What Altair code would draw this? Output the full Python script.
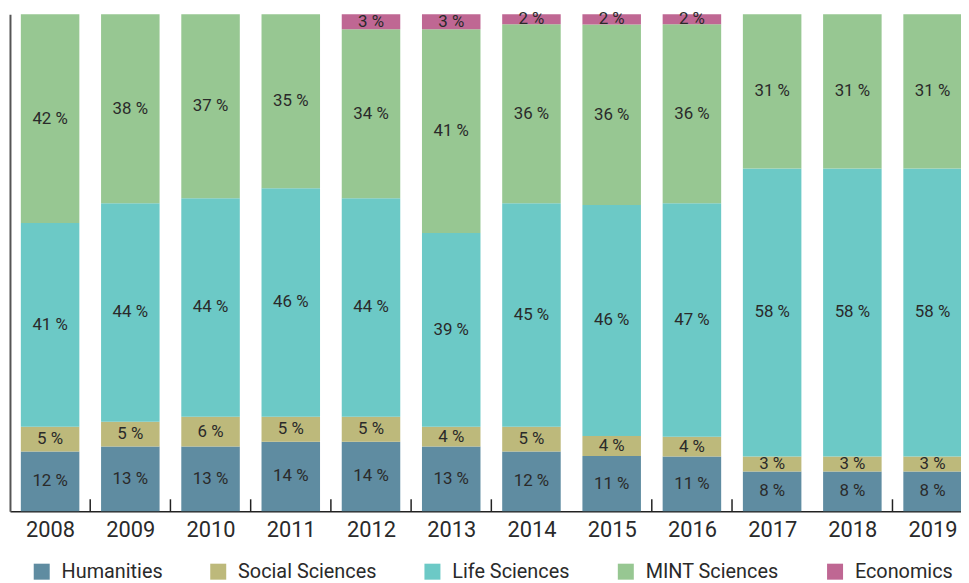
import altair as alt
import pandas as pd

years = ["2008", "2009", "2010", "2011", "2012", "2013", "2014", "2015", "2016", "2017", "2018", "2019"]
categories = ["Humanities", "Social Sciences", "Life Sciences", "MINT Sciences", "Economics"]
colors = ["#5f8ca1", "#bdb97b", "#6cc9c6", "#97c792", "#bf6793"]

humanities = [12, 13, 13, 14, 14, 13, 12, 11, 11, 8, 8, 8]
social = [5, 5, 6, 5, 5, 4, 5, 4, 4, 3, 3, 3]
life = [41, 44, 44, 46, 44, 39, 45, 46, 47, 58, 58, 58]
mint = [42, 38, 37, 35, 34, 41, 36, 36, 36, 31, 31, 31]
economics = [0, 0, 0, 0, 3, 3, 2, 2, 2, 0, 0, 0]

# years whose left boundary carries a small tick on the baseline
tick_years = ["2009", "2010", "2011", "2012", "2013", "2014", "2016", "2017", "2019"]

series = [humanities, social, life, mint, economics]
HALF = 0.3647  # half bar width, in units of one year slot
rows = []
for ci, (cat, vals) in enumerate(zip(categories, series)):
    for i, (y, v) in enumerate(zip(years, vals)):
        if v > 0:
            rows.append({"year": y, "idx": i, "xa": i - HALF, "xb": i + HALF,
                         "cat": cat, "order": ci, "value": v, "label": f"{v} %"})
df = pd.DataFrame(rows)

W = 959
H = 501
STEP_PX = 80.9
x_lo = -0.5
x_hi = x_lo + W / STEP_PX

xscale = alt.Scale(domain=[x_lo, x_hi], nice=False, zero=False)
yscale = alt.Scale(domain=[0, 1], nice=False, zero=True)

label_expr = "[" + ",".join(f"'{y}'" for y in years) + "][datum.value]"

base = alt.Chart(df).transform_stack(
    stack="value", groupby=["year"], as_=["y0", "y1"], offset="normalize",
    sort=[alt.SortField("order", order="ascending")]
).transform_calculate(mid="(datum.y0 + datum.y1) / 2")

bars = base.mark_bar().encode(
    x=alt.X("xa:Q", scale=xscale,
            axis=alt.Axis(title=None, values=list(range(len(years))), labelExpr=label_expr,
                          labelFontSize=22, labelFont="Roboto", labelColor="#2a2a2a",
                          labelAngle=0, ticks=False, grid=False, labelPadding=9,
                          labelFlush=False, labelBound=False, labelOverlap=False,
                          domainColor="#222", domainWidth=1.5)),
    x2="xb:Q",
    y=alt.Y("y0:Q", scale=yscale,
            axis=alt.Axis(title=None, labels=False, ticks=False, grid=False,
                          domainColor="#555", domainWidth=2)),
    y2="y1:Q",
    color=alt.Color("cat:N", scale=alt.Scale(domain=categories, range=colors),
                    legend=alt.Legend(title=None, orient="none", direction="horizontal",
                                      legendX=22, legendY=552, symbolType="square",
                                      symbolSize=260, symbolStrokeWidth=0, labelFontSize=20,
                                      labelFont="Roboto", labelColor="#2a2a2a", labelLimit=0,
                                      columnPadding=46, labelOffset=10, symbolOpacity=1)),
)

texts = base.mark_text(font="Roboto", fontSize=17, color="#2a2a2a").encode(
    x=alt.X("idx:Q", scale=xscale),
    y=alt.Y("mid:Q", scale=yscale),
    text="label:N",
)

tick_df = pd.DataFrame({"year": tick_years})
tick_df["pos"] = [years.index(y) - 0.5 for y in tick_years]
ticks = alt.Chart(tick_df).mark_rule(color="#222", strokeWidth=1.5).encode(
    x=alt.X("pos:Q", scale=xscale),
    y=alt.value(H - 12),
    y2=alt.value(H),
)

chart = alt.layer(bars, texts, ticks).properties(
    width=W, height=H,
    padding={"left": 2, "top": 4, "right": 0, "bottom": 70},
    autosize=alt.AutoSizeParams(type="none"),
).configure_view(stroke=None)

chart.save("out.html", embed_options={"renderer": "svg", "actions": False})
